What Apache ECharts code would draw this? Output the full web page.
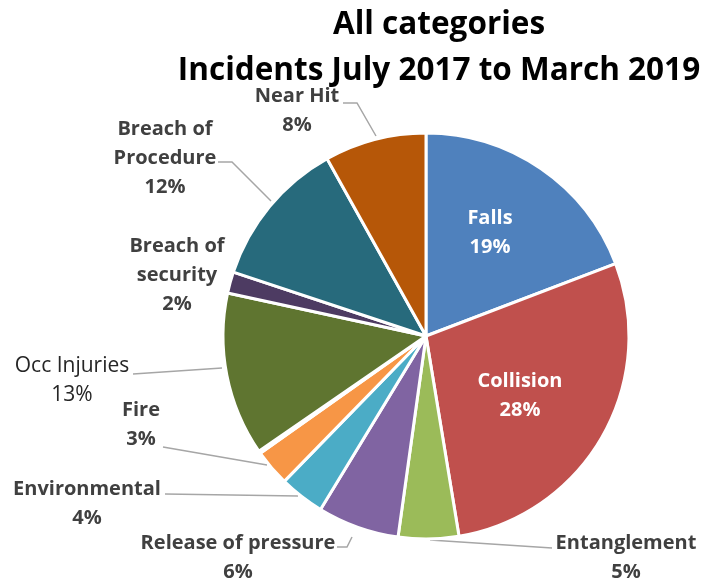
<!DOCTYPE html>
<html><head><meta charset="utf-8">
<script src="https://cdn.jsdelivr.net/npm/echarts@6/dist/echarts.min.js"></script>
<style>html,body{margin:0;padding:0;background:#fff}#c{width:702px;height:585px}</style>
</head><body><div id="c"></div>
<script>
const categories = ['Falls','Collision','Entanglement','Release of pressure','Environmental','Fire','Other','Occ Injuries','Breach of security','Breach of Procedure','Near Hit'];
const values = [19.2, 28.2, 4.8, 6.5, 3.6, 2.9, 0.2, 13.0, 1.7, 11.8, 8.1];
const percentLabels = ['19%','28%','5%','6%','4%','3%','','13%','2%','12%','8%'];
const labelNames = ['Falls','Collision','Entanglement','Release of pressure','Environmental','Fire','','Occ Injuries','Breach of\nsecurity','Breach of\nProcedure','Near Hit'];
const colors = ['#4F81BD','#C0504D','#9BBB59','#8064A2','#4BACC6','#F79646','#2C4D75','#5F7530','#4D3B62','#276A7C','#B65708'];

// label layout (text anchor centre x, top y, leader line points)
const labelLayoutCfg = [
  {x:490, y:204, line:null},
  {x:520, y:367, line:null},
  {x:626, y:529, line:[[552,548],[430,540]]},
  {x:238, y:529, line:[[337,547],[347,547],[352,537]]},
  {x:87,  y:475, line:[[165,494],[298,496]]},
  {x:141, y:396, line:[[163,447],[267,465]]},
  null,
  {x:72,  y:352, line:[[133,374],[222,368]]},
  {x:177, y:232, line:null},
  {x:165, y:115, line:[[218,162],[232,162],[271,201]]},
  {x:297, y:82,  line:[[343,103],[357,103],[376,136]]}
];

const FONT = '"Open Sans"';
const data = categories.map((c, i) => {
  const inside = i < 2;
  const occ = i === 7;
  return {
    name: c,
    value: values[i],
    itemStyle: { color: colors[i] },
    label: {
      show: i !== 6,
      formatter: labelNames[i] + '\n' + percentLabels[i],
      color: inside ? '#FFFFFF' : (occ ? '#262626' : '#404040'),
      fontWeight: occ ? 'normal' : 'bold',
      fontSize: occ ? 21 : 20,
      lineHeight: 29,
      fontFamily: FONT,
      align: 'center'
    },
    labelLine: { show: !!(labelLayoutCfg[i] && labelLayoutCfg[i].line) }
  };
});

const chart = echarts.init(document.getElementById('c'), null, {renderer: 'canvas'});
chart.setOption({
  animation: false,
  title: {
    text: 'All categories\nIncidents July 2017 to March 2019',
    left: 434, top: -3, textAlign: 'center',
    textStyle: { fontFamily: FONT, fontWeight: 'bold', fontSize: 31.5, lineHeight: 46, color: '#000' }
  },
  series: [{
    type: 'pie',
    center: [426, 336],
    radius: [0, 203],
    startAngle: 90,
    clockwise: true,
    avoidLabelOverlap: false,
    itemStyle: { borderColor: '#fff', borderWidth: 3 },
    label: { position: 'outside' },
    labelLine: { lineStyle: { color: '#A6A6A6', width: 1.5 }, length: 10, length2: 10 },
    labelLayout: function (p) {
      const cfg = labelLayoutCfg[p.dataIndex];
      if (!cfg) return {};
      const o = { x: cfg.x, y: cfg.y, align: 'center', verticalAlign: 'top' };
      if (cfg.line) o.labelLinePoints = cfg.line;
      return o;
    },
    data: data
  }]
});
</script></body></html>
